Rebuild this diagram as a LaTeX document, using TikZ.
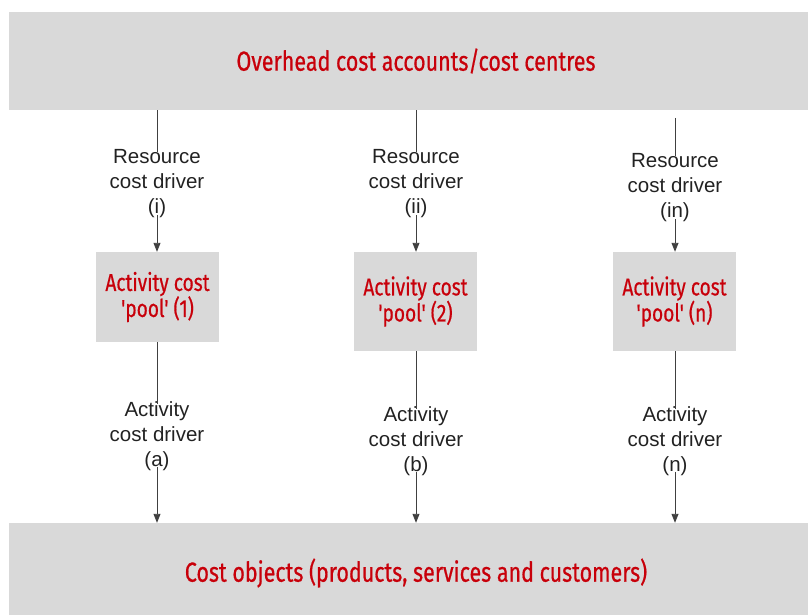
\documentclass[tikz,border=0pt]{standalone}
\usepackage{fontspec}
\setmainfont{Liberation Sans}
\newfontfamily\redfont[FakeStretch=0.78,FakeBold=0.6]{Fira Sans}
\usetikzlibrary{arrows.meta}
\definecolor{boxgray}{HTML}{D9D9D9}
\definecolor{titlered}{HTML}{C8000A}
\definecolor{txt}{HTML}{222222}
\tikzset{
  bigbox/.style={fill=boxgray, draw=none, minimum width=799pt, minimum height=#1, inner sep=0pt,
    font=\redfont\fontsize{27.5}{30}\selectfont, text=titlered},
  poolbox/.style={fill=boxgray, draw=none, minimum width=123pt, minimum height=#1, inner sep=0pt,
    align=center, font=\redfont\fontsize{24.5}{26}\selectfont, text=titlered},
  drv/.style={align=center, inner sep=0pt, font=\fontsize{20.5}{25}\selectfont, text=txt},
  conn/.style={draw=black!75, line width=0.9pt},
  arr/.style={conn, -{Triangle[length=9pt,width=7pt]}}
}
\begin{document}
\begin{tikzpicture}[x=1pt,y=-1pt]
\useasboundingbox (0,0) rectangle (808,615);
% big boxes
\node[bigbox=98pt] (top) at (408.5,61) {};
\node[font=\redfont\fontsize{27.5}{30}\selectfont, text=titlered, inner sep=0pt] (toplbl) at (416,61) {Overhead cost accounts/cost centres};
\node[bigbox=92pt] (bot) at (408.5,569) {};
\node[font=\redfont\fontsize{27.5}{30}\selectfont, text=titlered, inner sep=0pt] (botlbl) at (416,573) {Cost objects (products, services and customers)};
% pools
\node[poolbox=90pt] (p1) at (157.5,297) {Activity cost\\'pool' (1)};
\node[poolbox=99pt] (p2) at (415.5,301.5) {Activity cost\\'pool' (2)};
\node[poolbox=99pt] (p3) at (674.5,301.5) {Activity cost\\'pool' (n)};
% resource drivers
\node[drv] (r1) at (157,183.5) {Resource\\cost driver\\(i)};
\node[drv] (r2) at (416,183.5) {Resource\\cost driver\\(ii)};
\node[drv] (r3) at (675,187.5) {Resource\\cost driver\\(in)};
% activity drivers
\node[drv] (a1) at (157,436) {Activity\\cost driver\\(a)};
\node[drv] (a2) at (416,441) {Activity\\cost driver\\(b)};
\node[drv] (a3) at (675,441) {Activity\\cost driver\\(n)};
% connectors
\coordinate (t3) at (675,118);
\draw[conn] (top.south -| r1) -- ([yshift=-3pt]r1.north);
\draw[conn] (top.south -| r2) -- ([yshift=-3pt]r2.north);
\draw[conn] (t3) -- ([yshift=-3pt]r3.north);
\draw[arr] ([yshift=3pt]r1.south) -- (p1.north -| r1);
\draw[arr] ([yshift=3pt]r2.south) -- (p2.north -| r2);
\draw[arr] ([yshift=3pt]r3.south) -- (p3.north -| r3);
\draw[conn] (p1.south -| a1) -- ([yshift=-3pt]a1.north);
\draw[conn] (p2.south -| a2) -- ([yshift=-3pt]a2.north);
\draw[conn] (p3.south -| a3) -- ([yshift=-3pt]a3.north);
\draw[arr] ([yshift=4pt]a1.south) -- (bot.north -| a1);
\draw[arr] ([yshift=4pt]a2.south) -- (bot.north -| a2);
\draw[arr] ([yshift=4pt]a3.south) -- (bot.north -| a3);
\end{tikzpicture}
\end{document}
